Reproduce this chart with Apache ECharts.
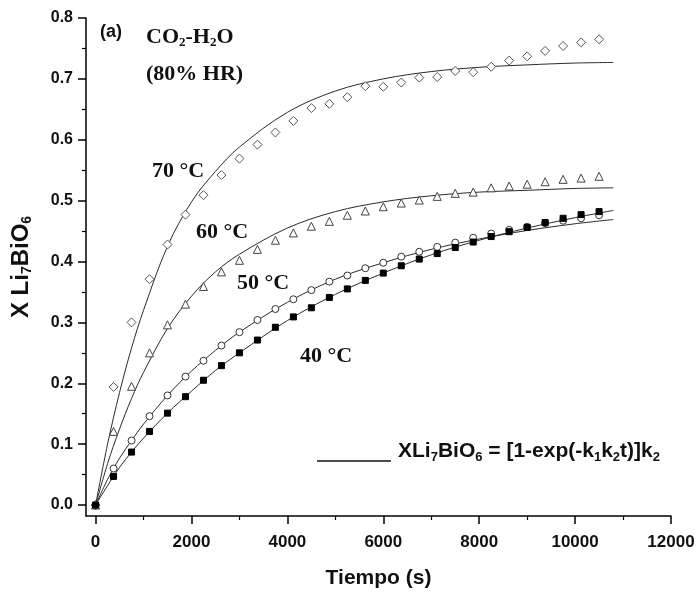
<!DOCTYPE html>
<html>
<head>
<meta charset="utf-8">
<script src="https://cdn.jsdelivr.net/npm/echarts@6/dist/echarts.min.js"></script>
<style>
  html, body { margin: 0; padding: 0; background: #fff; }
  #chart { width: 699px; height: 596px; }
</style>
</head>
<body>
<div id="chart"></div>
<script>
// Sampling times of the measured points (s)
const times = [0, 375, 750, 1125, 1500, 1875, 2250, 2625, 3000, 3375, 3750, 4125, 4500, 4875,
  5250, 5625, 6000, 6375, 6750, 7125, 7500, 7875, 8250, 8625, 9000, 9375, 9750, 10125, 10500];

// Measured conversion X Li7BiO6 at each temperature
const x70 = [0, 0.194, 0.300, 0.371, 0.428, 0.477, 0.509, 0.542, 0.569, 0.592, 0.612, 0.631, 0.652, 0.659,
  0.670, 0.688, 0.687, 0.694, 0.702, 0.703, 0.713, 0.711, 0.720, 0.730, 0.737, 0.746, 0.754, 0.760, 0.765];
const x60 = [0, 0.121, 0.195, 0.250, 0.296, 0.330, 0.359, 0.383, 0.402, 0.420, 0.435, 0.447, 0.458, 0.466,
  0.476, 0.483, 0.490, 0.496, 0.501, 0.507, 0.512, 0.514, 0.521, 0.524, 0.527, 0.531, 0.535, 0.537, 0.540];
const x50 = [0, 0.060, 0.106, 0.146, 0.180, 0.211, 0.237, 0.262, 0.284, 0.304, 0.322, 0.338, 0.353, 0.367,
  0.377, 0.389, 0.398, 0.408, 0.416, 0.424, 0.431, 0.439, 0.446, 0.452, 0.457, 0.463, 0.467, 0.471, 0.476];
const x40 = [0, 0.047, 0.087, 0.121, 0.151, 0.178, 0.205, 0.229, 0.250, 0.271, 0.292, 0.309, 0.324, 0.341,
  0.355, 0.369, 0.381, 0.393, 0.404, 0.413, 0.423, 0.432, 0.441, 0.449, 0.456, 0.464, 0.471, 0.477, 0.482];

// Fitted curves X = [1-exp(-k1 k2 t)] k2, sampled along the drawn lines
const fitT = [0, 250, 500, 750, 1000, 1500, 2000, 2500, 3000, 4000, 5000, 6000, 7000, 8000, 9000, 10000, 10800];
const fit70 = [0, 0.100, 0.185, 0.258, 0.320, 0.425, 0.498, 0.548, 0.588, 0.645, 0.680, 0.700, 0.712, 0.719, 0.723, 0.726, 0.727];
const fit60 = [0, 0.068, 0.125, 0.175, 0.218, 0.290, 0.343, 0.383, 0.412, 0.455, 0.482, 0.498, 0.508, 0.514, 0.517, 0.520, 0.521];
const fit50 = [0, 0.042, 0.077, 0.106, 0.133, 0.180, 0.220, 0.254, 0.284, 0.333, 0.371, 0.398, 0.420, 0.437, 0.451, 0.462, 0.469];
const fit40 = [0, 0.032, 0.062, 0.087, 0.110, 0.151, 0.187, 0.221, 0.250, 0.303, 0.346, 0.381, 0.411, 0.435, 0.455, 0.472, 0.484];

// Axis tick positions
const xMajor = [0, 2000, 4000, 6000, 8000, 10000, 12000];
const xMinor = [1000, 3000, 5000, 7000, 9000, 11000];
const yMajor = [0, 0.1, 0.2, 0.3, 0.4, 0.5, 0.6, 0.7, 0.8];
const yMinor = [0.05, 0.15, 0.25, 0.35, 0.45, 0.55, 0.65, 0.75];

const pairs = (xs, ys) => xs.map((t, i) => [t, ys[i]]);

const SANS = 'Liberation Sans, Arial, sans-serif';
const SERIF = 'Liberation Serif, Times New Roman, serif';
const INK = '#111';

const chart = echarts.init(document.getElementById('chart'), null, { renderer: 'canvas' });

const axisLineOn = { show: true, onZero: false, lineStyle: { color: '#000', width: 1.5 } };
const axisLineOff = { show: false, onZero: false };

const baseX = { type: 'value', min: -200, max: 12000, gridIndex: 0, position: 'bottom', offset: 0, splitLine: { show: false } };
const baseY = { type: 'value', min: -0.018, max: 0.8, gridIndex: 0, position: 'left', offset: 0, splitLine: { show: false } };

const curveStyle = { color: '#2a2a2a', width: 1 };

function fitSeries(name, ys) {
  return {
    name, type: 'line', data: pairs(fitT, ys), smooth: 0.35, showSymbol: false, symbol: 'none',
    lineStyle: curveStyle, clip: false, z: 2, silent: true
  };
}
function pointSeries(name, ys, symbol, size, fill, stroke) {
  return {
    name, type: 'scatter', data: pairs(times, ys), symbol, symbolSize: size, clip: false, z: 3,
    itemStyle: { color: fill, borderColor: stroke, borderWidth: 1, opacity: 1 }
  };
}

const option = {
  backgroundColor: '#fff',
  animation: false,
  grid: { left: 86, right: 28, top: 18, bottom: 80, outerBoundsMode: 'none', containLabel: false },
  xAxis: [
    Object.assign({}, baseX, {
      axisLine: axisLineOn,
      name: 'Tiempo (s)', nameLocation: 'middle', nameGap: 52,
      nameTextStyle: { fontFamily: SANS, fontWeight: 'bold', fontSize: 21, color: INK },
      axisTick: { show: true, customValues: xMajor, length: 8, inside: false, lineStyle: { color: '#000', width: 1.5 } },
      axisLabel: {
        show: true, customValues: xMajor, margin: 18, fontFamily: SANS, fontWeight: 'bold', fontSize: 17, color: INK,
        formatter: v => String(v)
      }
    }),
    Object.assign({}, baseX, {
      axisLine: axisLineOff,
      axisTick: { show: true, customValues: xMinor, length: 4, lineStyle: { color: '#000', width: 1.2 } },
      axisLabel: { show: false }
    })
  ],
  yAxis: [
    Object.assign({}, baseY, {
      axisLine: axisLineOn,
      name: 'X Li{sub|7}BiO{sub|6}', nameLocation: 'middle', nameGap: 52, nameRotate: 90,
      nameTextStyle: {
        fontFamily: SANS, fontWeight: 'bold', fontSize: 24, color: INK,
        rich: { sub: { fontFamily: SANS, fontWeight: 'bold', fontSize: 14, color: INK, verticalAlign: 'bottom', padding: [12, 0, 0, 0] } }
      },
      axisTick: { show: true, customValues: yMajor, length: 8, lineStyle: { color: '#000', width: 1.5 } },
      axisLabel: {
        show: true, customValues: yMajor, margin: 13, fontFamily: SANS, fontWeight: 'bold', fontSize: 16, color: INK,
        formatter: v => v.toFixed(1)
      }
    }),
    Object.assign({}, baseY, {
      axisLine: axisLineOff,
      axisTick: { show: true, customValues: yMinor, length: 4, lineStyle: { color: '#000', width: 1.2 } },
      axisLabel: { show: false }
    })
  ],
  series: [
    fitSeries('fit 70', fit70),
    fitSeries('fit 60', fit60),
    fitSeries('fit 50', fit50),
    fitSeries('fit 40', fit40),
    pointSeries('70 °C', x70, 'diamond', 9, '#fff', '#555'),
    pointSeries('60 °C', x60, 'triangle', 8, '#fff', '#444'),
    pointSeries('50 °C', x50, 'circle', 7, '#fff', '#333'),
    pointSeries('40 °C', x40, 'rect', 6, '#000', '#000')
  ],
  graphic: [
    { type: 'text', left: 100, top: 23, style: { text: '(a)', font: 'bold 18px ' + SANS, fill: INK } },
    {
      type: 'text', left: 146, top: 26, style: {
        text: 'CO{s|2}-H{s|2}O', font: 'bold 22px ' + SERIF, fill: INK,
        rich: { s: { font: 'bold 13px ' + SERIF, fill: INK, padding: [12, 0, 0, 0] } }
      }
    },
    { type: 'text', left: 146, top: 63, style: { text: '(80% HR)', font: 'bold 22px ' + SERIF, fill: INK } },
    { type: 'text', left: 152, top: 160, style: { text: '70 °C', font: 'bold 22px ' + SERIF, fill: INK } },
    { type: 'text', left: 196, top: 221, style: { text: '60 °C', font: 'bold 22px ' + SERIF, fill: INK } },
    { type: 'text', left: 237, top: 272, style: { text: '50 °C', font: 'bold 22px ' + SERIF, fill: INK } },
    { type: 'text', left: 300, top: 345, style: { text: '40 °C', font: 'bold 22px ' + SERIF, fill: INK } },
    { type: 'line', shape: { x1: 317, y1: 461, x2: 391, y2: 461 }, style: { stroke: '#111', lineWidth: 1.5 } },
    {
      type: 'text', left: 398, top: 441, style: {
        text: 'XLi{s|7}BiO{s|6} = [1-exp(-k{s|1}k{s|2}t)]k{s|2}', font: 'bold 21px ' + SANS, fill: INK,
        rich: { s: { font: 'bold 13px ' + SANS, fill: INK, padding: [12, 0, 0, 0] } }
      }
    }
  ]
};

chart.setOption(option);
</script>
</body>
</html>
